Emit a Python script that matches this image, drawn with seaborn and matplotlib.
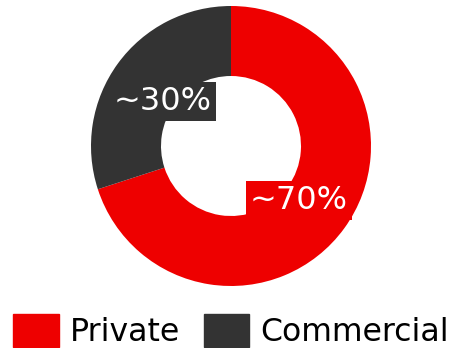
import matplotlib
matplotlib.use("Agg")
import matplotlib.pyplot as plt
import matplotlib.patches as mpatches
import seaborn as sns
import numpy as np

categories = ["Private", "Commercial"]
values = [70, 30]
labels = ["~70%", "~30%"]
colors = ["#ee0000", "#333333"]

sns.set_theme(style="white")
plt.rcParams['font.family'] = ['DejaVu Sans']

fig = plt.figure(figsize=(4.5, 3.48), dpi=100)
ax = fig.add_axes([91 / 450, 62 / 348, 280 / 450, 280 / 348])

wedges, texts = ax.pie(values, colors=colors, startangle=90, counterclock=False,
                       wedgeprops=dict(width=0.5, linewidth=0))
for w, lab, col in zip(wedges, labels, colors):
    ang = np.deg2rad((w.theta1 + w.theta2) / 2)
    r = 0.6
    ax.text(r * np.cos(ang), r * np.sin(ang) - 0.035, lab, ha="center", va="center",
            fontsize=23, color="white",
            bbox=dict(boxstyle="square,pad=0.13", fc=col, ec="none"))
ax.set_xlim(-1, 1)
ax.set_ylim(-1, 1)
ax.set_aspect("auto")
ax.axis("off")

handles = [mpatches.Patch(color=c, label=l) for c, l in zip(colors, categories)]
fig.legend(handles=handles, loc="lower left", bbox_to_anchor=(13 / 450, 0),
           ncol=2, frameon=False, fontsize=22.7, handlelength=1.45, handleheight=1.2,
           handletextpad=0.35, columnspacing=0.75, borderpad=0, borderaxespad=0,
           labelcolor="black")

fig.savefig("out.png", dpi=100)
